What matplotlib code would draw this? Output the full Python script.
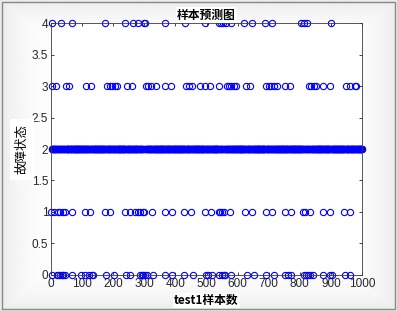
import matplotlib.pyplot as plt
import numpy as np

plt.rcParams['font.family'] = ['Noto Sans CJK SC', 'DejaVu Sans']

# sample indices predicted in each fault state
state4 = [4, 32, 69, 175, 238, 263, 280, 300, 303, 365, 431, 495, 541, 546, 553,
          562, 580, 622, 647, 687, 711, 805, 812, 823, 901]
state3 = [4, 16, 48, 59, 113, 128, 179, 190, 197, 206, 211, 245, 260, 305, 312,
          322, 336, 367, 385, 434, 443, 453, 480, 495, 512, 541, 565, 572, 580,
          587, 594, 628, 640, 692, 701, 707, 716, 726, 753, 769, 828, 837, 844,
          853, 873, 896, 948, 960, 976, 981]
state1 = [1, 11, 21, 29, 38, 46, 67, 109, 126, 174, 190, 238, 254, 270, 281, 286,
          295, 299, 324, 367, 388, 426, 451, 494, 514, 539, 544, 549, 557, 576,
          624, 646, 691, 712, 753, 771, 810, 818, 834, 876, 898, 943, 962]
state0 = [4, 18, 24, 29, 34, 40, 45, 67, 97, 109, 123, 131, 136, 176, 201, 241,
          254, 286, 292, 297, 302, 308, 327, 365, 388, 426, 456, 498, 506, 517,
          539, 549, 555, 560, 580, 630, 652, 691, 716, 753, 761, 771, 814, 819,
          825, 833, 841, 876, 898, 903, 946, 962]
n_samples = 1000
# every other test sample sits in state 2
others = set(state4) | set(state3) | set(state1) | set(state0)
state2 = [i for i in range(1, n_samples + 1) if i not in others]

fig = plt.figure(figsize=(3.97, 3.11), dpi=100)

# soft grey vignette behind everything, like the screenshot frame
bg = fig.add_axes([0, 0, 1, 1], zorder=-10)
yy, xx = np.mgrid[-1:1:200j, -1:1:260j]
r = np.maximum(np.abs(xx) ** 8, np.abs(yy) ** 8)
bg.imshow(1 - 0.08 * r, cmap='gray', vmin=0, vmax=1, aspect='auto',
          extent=[0, 1, 0, 1])
bg.plot([0.006, 0.994, 0.994, 0.006, 0.006], [0.008, 0.008, 0.992, 0.992, 0.008],
        color='#8a8a8a', lw=1.0)
bg.set_xlim(0, 1)
bg.set_ylim(0, 1)
bg.axis('off')

ax = fig.add_axes([0.1285, 0.1158, 0.7835, 0.8102])
ax.set_facecolor('white')
for xs, lvl in [(state0, 0), (state1, 1), (state2, 2), (state3, 3), (state4, 4)]:
    ax.plot(xs, [lvl] * len(xs), 'o', color='blue', mfc='none', ms=4.5,
            mew=0.8, clip_on=False)

ax.set_xlim(0, 1000)
ax.set_ylim(0, 4)
ax.set_xticks(range(0, 1001, 100))
ax.set_yticks(np.arange(0, 4.01, 0.5))
ax.set_yticklabels(['0', '0.5', '1', '1.5', '2', '2.5', '3', '3.5', '4'])
ax.tick_params(direction='in', top=True, right=True, length=2.5, width=0.6,
               labelsize=8.5, colors='#262626', pad=2)
for lab in ax.get_xticklabels() + ax.get_yticklabels():
    lab.set_family('Liberation Sans')
for s in ax.spines.values():
    s.set_color('#3a3a3a')
    s.set_linewidth(0.6)

ax.set_title('样本预测图', fontsize=8.5, pad=3, fontweight='bold',
             bbox=dict(facecolor='white', edgecolor='none', pad=1))
ax.set_xlabel('test1样本数', fontsize=8.5, labelpad=3, fontweight='bold',
              bbox=dict(facecolor='white', edgecolor='none', pad=1))
ax.set_ylabel('故障状态', fontsize=9, labelpad=2,
              bbox=dict(facecolor='white', edgecolor='none', pad=4))

fig.savefig('out.png', dpi=100)
